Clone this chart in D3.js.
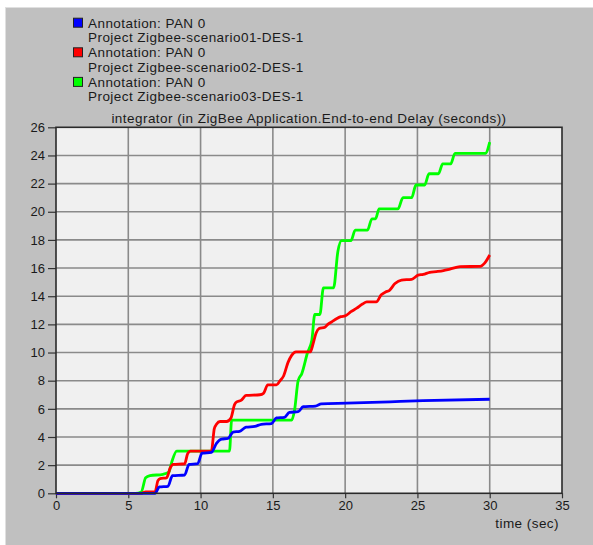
<!DOCTYPE html>
<meta charset="utf-8">
<head>
<style>
body { margin: 0; background: #fff; }
text { font-family: "Liberation Sans", Arial, sans-serif; fill: #1a1a1a; }
.grid line { stroke: #8a8a8a; stroke-width: 1.6; }
.axis path { display: none; }
.axis line { stroke: #333; stroke-width: 1.2; }
.axis text { font-size: 13px; }
.label { font-size: 13.5px; letter-spacing: 0.45px; }
path.series { fill: none; stroke-width: 2.8; stroke-linejoin: round; }
</style>
</head>
<body>
<script src="https://cdnjs.cloudflare.com/ajax/libs/d3/7.8.5/d3.min.js"></script>
<script>
// ---------------- data ----------------
var xTicks = [0, 5, 10, 15, 20, 25, 30, 35];
var yTicks = [0, 2, 4, 6, 8, 10, 12, 14, 16, 18, 20, 22, 24, 26];

var seriesNames = ["Zigbee-scenario01-DES-1", "Zigbee-scenario02-DES-1", "Zigbee-scenario03-DES-1"];
var seriesColors = ["#0000ff", "#ff0000", "#00ff00"];

// [time, delay]
var scenario01 = [[0,0],[6.85,0],[7.15,0.45],[7.75,0.5],[8.05,1.25],[8.9,1.3],[9.2,2.05],[9.8,2.1],
  [10.1,2.85],[10.75,2.9],[11.1,3.55],[11.45,3.85],[11.9,3.9],[12.25,4.35],[12.7,4.4],[13.15,4.7],
  [13.75,4.75],[14.2,4.9],[14.9,4.95],[15.25,5.35],[15.8,5.4],[16.15,5.75],[16.75,5.8],[17.1,6.15],
  [17.95,6.2],[18.35,6.35],[20.1,6.4],[23.1,6.5],[25.4,6.58],[30.0,6.68]];

var scenario02 = [[0,0],[5.9,0],[6.2,0.1],[6.85,0.1],[7.05,0.9],[7.2,1.05],[7.65,1.1],[7.9,1.8],
  [8.1,2.05],[8.9,2.1],[9.1,2.8],[9.3,3.0],[10.75,3.0],[10.95,4.6],[11.1,4.9],[11.35,5.1],[11.8,5.1],
  [12.1,5.35],[12.35,6.3],[12.5,6.5],[12.8,6.6],[13.15,6.95],[14.1,7.0],[14.35,7.1],[14.65,7.7],
  [15.25,7.7],[15.5,8.0],[15.75,8.35],[16.05,9.3],[16.3,9.8],[16.6,10.05],[17.6,10.05],[17.75,10.5],
  [18.0,11.4],[18.2,11.7],[18.6,11.8],[18.8,12.0],[19.1,12.2],[19.4,12.4],[19.7,12.55],[20.0,12.6],
  [20.4,12.9],[20.8,13.15],[21.2,13.45],[21.5,13.6],[22.15,13.6],[22.5,14.1],[22.8,14.3],[23.05,14.4],
  [23.45,14.9],[23.9,15.15],[24.6,15.2],[25.05,15.5],[25.4,15.55],[25.85,15.7],[26.3,15.75],
  [26.8,15.82],[27.25,15.93],[27.95,16.1],[29.35,16.12],[29.65,16.35],[30.0,16.93]];

var scenario03 = [[0,0],[5.5,0],[5.9,0.1],[6.2,1.1],[6.5,1.25],[7.4,1.35],[7.8,1.5],[8.0,2.2],
  [8.35,3.0],[12.0,3.0],[12.15,5.2],[16.3,5.2],[16.5,5.9],[16.75,8.0],[17.0,8.5],[17.4,10.0],
  [17.7,10.9],[17.9,12.7],[18.25,12.7],[18.5,14.6],[19.2,14.6],[19.5,17.2],[19.75,17.95],[20.4,17.95],
  [20.7,18.7],[21.55,18.7],[21.85,19.5],[22.1,19.5],[22.35,20.2],[23.65,20.2],[24.0,21.0],[24.6,21.0],
  [24.9,21.9],[25.5,21.9],[25.8,22.7],[26.45,22.7],[26.75,23.4],[27.3,23.4],[27.6,24.15],[29.7,24.15],
  [30.0,24.95]];

var allSeries = [scenario01, scenario02, scenario03];

// ---------------- svg ----------------
var width = 593, height = 545;
var svg = d3.select("body").append("svg")
    .attr("width", width)
    .attr("height", height);

// grey panel
svg.append("rect")
    .attr("x", 5).attr("y", 7)
    .attr("width", width - 5).attr("height", height - 7)
    .attr("fill", "#c0c0c0");
svg.append("line")
    .attr("x1", 5).attr("x2", width).attr("y1", 7.5).attr("y2", 7.5)
    .attr("stroke", "#e0e0e0");
svg.append("line")
    .attr("x1", 5.5).attr("x2", 5.5).attr("y1", 7).attr("y2", height)
    .attr("stroke", "#e0e0e0");

// scales
var xScale = d3.scaleLinear().domain([0, 35]).range([56, 562]);
var yScale = d3.scaleLinear().domain([0, 26]).range([493.3, 127.3]);

// plot background
svg.append("rect")
    .attr("x", xScale(0)).attr("y", yScale(26))
    .attr("width", xScale(35) - xScale(0))
    .attr("height", yScale(0) - yScale(26))
    .attr("fill", "#f0f0f0");

// grid
var grid = svg.append("g").attr("class", "grid");
grid.selectAll(".gx")
    .data(xTicks.slice(1, -1))
    .enter().append("line")
    .attr("x1", function(d) { return xScale(d); })
    .attr("x2", function(d) { return xScale(d); })
    .attr("y1", yScale(0)).attr("y2", yScale(26));
grid.selectAll(".gy")
    .data(yTicks.slice(1, -1))
    .enter().append("line")
    .attr("x1", xScale(0)).attr("x2", xScale(35))
    .attr("y1", function(d) { return yScale(d); })
    .attr("y2", function(d) { return yScale(d); });

// axes
svg.append("g")
    .attr("class", "axis")
    .attr("transform", "translate(0," + yScale(0) + ")")
    .call(d3.axisBottom(xScale).tickValues(xTicks).tickSize(5).tickPadding(2));

svg.append("g")
    .attr("class", "axis")
    .attr("transform", "translate(" + xScale(0) + ",0)")
    .call(d3.axisLeft(yScale).tickValues(yTicks).tickSize(8).tickPadding(3));

svg.selectAll(".axis text").attr("fill", "#1a1a1a");

// lines (blue drawn last so it sits on top)
var line = d3.line()
    .x(function(d) { return xScale(d[0]); })
    .y(function(d) { return yScale(d[1]); })
    .curve(d3.curveMonotoneX);

[2, 1, 0].forEach(function(i) {
    svg.append("path")
        .attr("class", "series")
        .attr("stroke", seriesColors[i])
        .attr("d", line(allSeries[i]));
});

// frame
svg.append("rect")
    .attr("x", xScale(0)).attr("y", yScale(26))
    .attr("width", xScale(35) - xScale(0))
    .attr("height", yScale(0) - yScale(26))
    .attr("fill", "none")
    .attr("stroke", "#2a2a2a")
    .attr("stroke-width", 1.6);

// title
svg.append("text")
    .attr("class", "label")
    .attr("x", (xScale(0) + xScale(35)) / 2)
    .attr("y", 123)
    .attr("text-anchor", "middle")
    .text("integrator (in ZigBee Application.End-to-end Delay (seconds))");

// x axis label
svg.append("text")
    .attr("class", "label")
    .attr("x", 559)
    .attr("y", 528)
    .attr("text-anchor", "end")
    .text("time (sec)");

// legend
var legend = svg.selectAll(".legend")
    .data(seriesNames)
    .enter().append("g")
    .attr("transform", function(d, i) { return "translate(0," + (22.7 + i * 29.6) + ")"; });

legend.append("rect")
    .attr("x", 73.5).attr("y", -4.5)
    .attr("width", 9).attr("height", 9)
    .attr("fill", function(d, i) { return seriesColors[i]; })
    .attr("stroke", "#222");

legend.append("text")
    .attr("class", "label")
    .attr("x", 88).attr("y", 4.8)
    .text("Annotation: PAN 0");

legend.append("text")
    .attr("class", "label")
    .attr("x", 88).attr("y", 19.6)
    .text(function(d) { return "Project " + d; });
</script>
</body>
</html>
